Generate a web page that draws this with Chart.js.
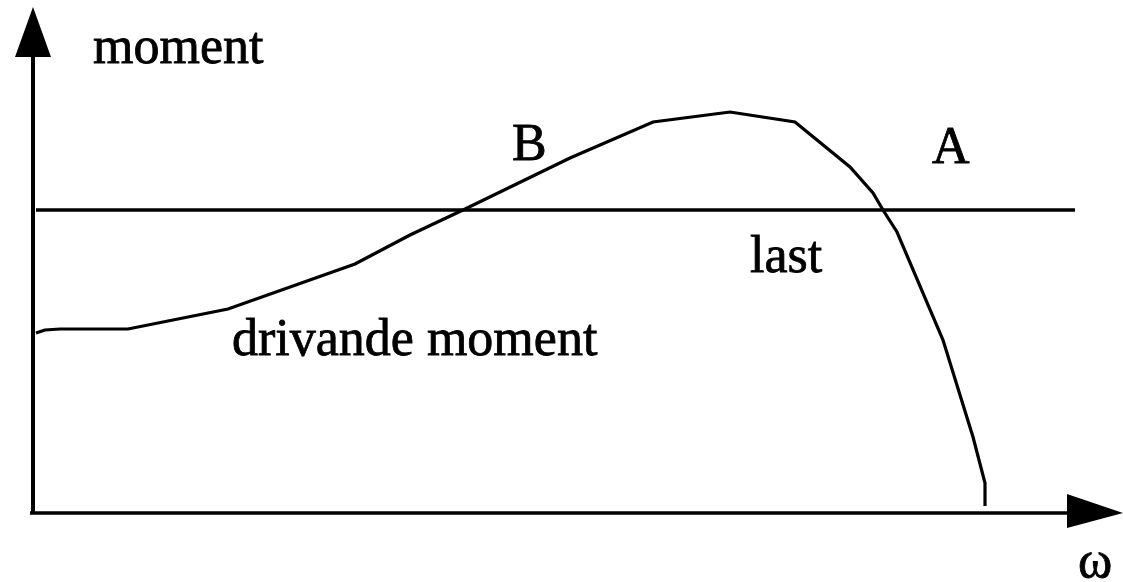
<!DOCTYPE html>
<html>
<head>
<meta charset="utf-8">
<script src="https://cdn.jsdelivr.net/npm/chart.js@4/dist/chart.umd.min.js"></script>
<style>
html,body{margin:0;padding:0;background:#fff;}
#wrap{width:1123px;height:582px;position:relative;}
.pre{font-family:"Liberation Serif";position:absolute;left:-9999px;}
</style>
</head>
<body>
<span class="pre">moment ω</span>
<div id="wrap"><canvas id="c" width="1123" height="582"></canvas></div>
<script>
// Driving torque curve (ω, moment)
const omega  = [0.1, 1.0, 2.5, 9.3, 19.3, 32.0, 37.5, 42.8, 53.5, 61.8, 69.5, 76.0, 81.5, 83.8, 84.8, 86.2, 90.8, 93.8, 95.0, 95.0];
const moment = [18.0, 18.3, 18.4, 18.4, 20.4, 24.9, 27.8, 30.3, 35.5, 39.1, 40.1, 39.1, 34.6, 32.0, 30.3, 28.1, 17.3, 7.6, 3.0, 0.7];
// Load line (constant)
const loadOmega  = [0.1, 104.0];
const loadMoment = [30.3, 30.3];
// Axes extents
const axisXEnd = 103.2, axisXTip = 108.8;
const axisYEnd = 45.6,  axisYTip = 50.6;
// Text labels
const labelTexts = ["moment", "B", "A", "last", "drivande moment", "ω"];
const labelX     = [5.8, 47.7, 89.7, 71.5, 19.7, 104.3];
const labelY     = [45.0, 35.3, 35.0, 24.1, 15.8, -6.4];

const curve = omega.map((x, i) => ({x, y: moment[i]}));
const load = loadOmega.map((x, i) => ({x, y: loadMoment[i]}));
const FONT = '52px "Liberation Serif", "Times New Roman", serif';

const diagramPlugin = {
  id: 'diagram',
  afterDatasetsDraw(chart) {
    const {ctx, scales: {x, y}} = chart;
    ctx.save();
    ctx.fillStyle = '#000';
    ctx.strokeStyle = '#000';
    ctx.lineWidth = 4;
    ctx.beginPath();
    ctx.moveTo(x.getPixelForValue(-0.2), y.getPixelForValue(0));
    ctx.lineTo(x.getPixelForValue(-0.2), y.getPixelForValue(axisYEnd));
    ctx.stroke();
    ctx.lineWidth = 3.5;
    ctx.beginPath();
    ctx.moveTo(x.getPixelForValue(-0.5), y.getPixelForValue(0));
    ctx.lineTo(x.getPixelForValue(axisXEnd), y.getPixelForValue(0));
    ctx.stroke();
    ctx.beginPath();
    ctx.moveTo(x.getPixelForValue(-0.2), y.getPixelForValue(axisYTip));
    ctx.lineTo(x.getPixelForValue(-2.0), y.getPixelForValue(axisYEnd));
    ctx.lineTo(x.getPixelForValue(1.6), y.getPixelForValue(axisYEnd));
    ctx.closePath();
    ctx.fill();
    ctx.beginPath();
    ctx.moveTo(x.getPixelForValue(axisXTip), y.getPixelForValue(0));
    ctx.lineTo(x.getPixelForValue(axisXEnd), y.getPixelForValue(1.9));
    ctx.lineTo(x.getPixelForValue(axisXEnd), y.getPixelForValue(-1.5));
    ctx.closePath();
    ctx.fill();
    ctx.font = FONT;
    ctx.textAlign = 'left';
    ctx.textBaseline = 'alphabetic';
    ctx.lineWidth = 0.8;
    labelTexts.forEach((t, i) => {
      const px = x.getPixelForValue(labelX[i]), py = y.getPixelForValue(labelY[i]);
      ctx.fillText(t, px, py);
      ctx.strokeText(t, px, py);
    });
    ctx.restore();
  }
};

function build() {
  new Chart(document.getElementById('c'), {
    type: 'scatter',
    data: {
      datasets: [
        {data: curve, showLine: true, borderColor: '#000', borderWidth: 3.2, pointRadius: 0, tension: 0, fill: false},
        {data: load, showLine: true, borderColor: '#000', borderWidth: 3.5, pointRadius: 0, tension: 0, fill: false}
      ]
    },
    options: {
      responsive: false,
      animation: false,
      layout: {padding: 0},
      plugins: {legend: {display: false}, tooltip: {enabled: false}},
      scales: {
        x: {type: 'linear', display: false, min: -3.5, max: 108.8},
        y: {type: 'linear', display: false, min: -6.9, max: 51.3}
      }
    },
    plugins: [diagramPlugin]
  });
}
if (document.fonts && document.fonts.load) {
  document.fonts.load(FONT, 'moment ω').then(build, build);
} else {
  build();
}
</script>
</body>
</html>
